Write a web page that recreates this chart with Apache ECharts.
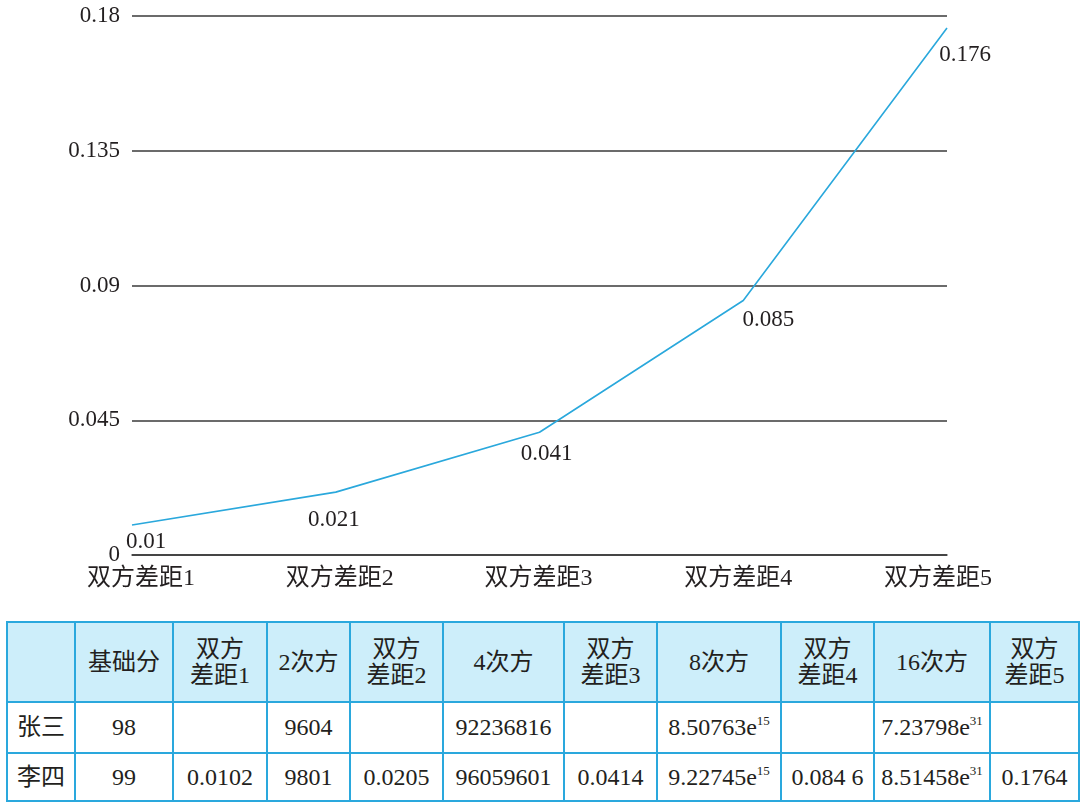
<!DOCTYPE html>
<html>
<head>
<meta charset="utf-8">
<script src="https://cdn.jsdelivr.net/npm/echarts@6/dist/echarts.min.js"></script>
<style>
  html, body { margin: 0; padding: 0; background: #ffffff; }
  #chart { position: absolute; left: 0; top: 0; width: 1080px; height: 610px; }
  #tbl { position: absolute; left: 6px; top: 621px; border-collapse: collapse; table-layout: fixed;
         font-family: "Liberation Serif", "Noto Sans CJK SC", serif; font-size: 24px; color: #231f20; }
  #tbl td { border: 2px solid #2aa8dd; text-align: center; vertical-align: middle; padding: 0; line-height: 1.1; white-space: nowrap; overflow: hidden; }
  #tbl tr.head td { background: #cdeefa; height: 78px; }
  #tbl tr.r1 td { height: 49px; }
  #tbl tr.r2 td { height: 46px; }
  #tbl sup { font-size: 13px; vertical-align: 10px; line-height: 0; }
</style>
</head>
<body>
<div id="chart"></div>
<table id="tbl"></table>
<script>
// ---- chart data ----
var categories = ['双方差距1', '双方差距2', '双方差距3', '双方差距4', '双方差距5'];
var gapValues = [0.01, 0.021, 0.041, 0.085, 0.176];
var yTickLabels = ['0', '0.045', '0.09', '0.135', '0.18'];

// ---- table data ----
var tableHeader = ['', '基础分', '双方\n差距1', '2次方', '双方\n差距2', '4次方', '双方\n差距3', '8次方', '双方\n差距4', '16次方', '双方\n差距5'];
var rowNames = ['张三', '李四'];
var rowZhang = ['98', '', '9604', '', '92236816', '', '8.50763e^15', '', '7.23798e^31', ''];
var rowLi = ['99', '0.0102', '9801', '0.0205', '96059601', '0.0414', '9.22745e^15', '0.084 6', '8.51458e^31', '0.1764'];

// ---- layout / style (not data) ----
var colWidths = [68, 98, 94, 83, 93, 121, 93, 124, 93, 116, 89];
var labelNudgeX = [14, -2, 7, 25, 18];     // data-label shift in px (style)
var labelNudgeY = [-9, 2, -4, -6, 1];
var axisLabelShift = [9, 4, -1, -5, -9];    // category-label shift in px (style)

var textFont = '"Liberation Serif", "Noto Sans CJK SC", serif';
var richStyles = {};
axisLabelShift.forEach(function (s, i) {
  richStyles['c' + i] = {
    fontFamily: textFont, fontSize: 24, color: '#231f20',
    padding: s >= 0 ? [0, 0, 0, 2 * s] : [0, -2 * s, 0, 0]
  };
});

var chart = echarts.init(document.getElementById('chart'), null, { renderer: 'canvas' });
chart.setOption({
  animation: false,
  backgroundColor: '#ffffff',
  grid: { left: 132, right: 133, top: 16, bottom: 55, containLabel: false },
  xAxis: {
    type: 'category',
    data: categories,
    boundaryGap: false,
    axisLine: { show: true, lineStyle: { color: '#3a3a3a', width: 1.5 } },
    axisTick: { show: false },
    axisLabel: {
      interval: 0,
      hideOverlap: false,
      color: '#231f20', fontFamily: textFont, fontSize: 24, margin: 12,
      formatter: function (v, i) { return '{c' + i + '|' + v + '}'; },
      rich: richStyles
    }
  },
  yAxis: {
    type: 'value',
    min: 0,
    max: 0.18,
    interval: 0.045,
    axisLine: { show: false },
    axisTick: { show: false },
    splitLine: { show: true, lineStyle: { color: '#3a3a3a', width: 1.5 } },
    axisLabel: {
      color: '#231f20', fontFamily: textFont, fontSize: 23, margin: 12,
      formatter: function (v) {
        var idx = Math.round(v / 0.045);
        return yTickLabels[idx] !== undefined ? yTickLabels[idx] : v;
      }
    }
  },
  series: [{
    type: 'line',
    data: gapValues,
    showSymbol: true,
    symbol: 'circle',
    symbolSize: 2,
    itemStyle: { color: 'rgba(0,0,0,0)', borderWidth: 0 },
    lineStyle: { color: '#2aa8dc', width: 1.6 },
    label: {
      show: true,
      position: 'bottom',
      distance: 13,
      color: '#231f20',
      fontFamily: textFont,
      fontSize: 23,
      formatter: function (p) { return String(p.value); }
    },
    labelLayout: function (params) {
      var i = params.dataIndex;
      return { dx: labelNudgeX[i] || 0, dy: labelNudgeY[i] || 0, hideOverlap: false };
    }
  }]
});

// ---- build table ----
function cellHtml(s) {
  var esc = s.replace(/&/g, '&amp;').replace(/</g, '&lt;');
  esc = esc.replace(/\^(\d+)/, '<sup>$1</sup>');
  return esc.replace(/\n/g, '<br>');
}
var tbl = document.getElementById('tbl');
var cg = '<colgroup>' + colWidths.map(function (w) { return '<col style="width:' + w + 'px">'; }).join('') + '</colgroup>';
var html = cg;
html += '<tr class="head">' + tableHeader.map(function (h) { return '<td>' + cellHtml(h) + '</td>'; }).join('') + '</tr>';
[rowZhang, rowLi].forEach(function (row, r) {
  html += '<tr class="r' + (r + 1) + '"><td>' + rowNames[r] + '</td>' +
    row.map(function (c) { return '<td>' + cellHtml(c) + '</td>'; }).join('') + '</tr>';
});
tbl.innerHTML = html;
</script>
</body>
</html>
